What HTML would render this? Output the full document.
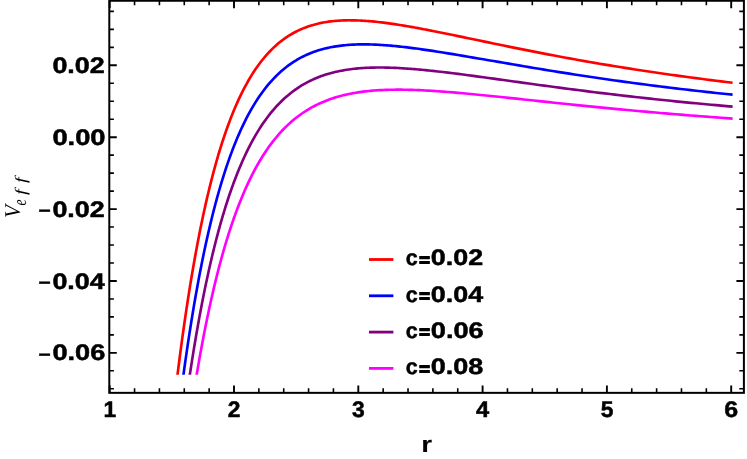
<!DOCTYPE html>
<html><head><meta charset="utf-8"><title>V_eff vs r</title>
<style>
html,body{margin:0;padding:0;background:#fff;}
body{width:747px;height:459px;overflow:hidden;font-family:"Liberation Sans",sans-serif;}
svg{display:block;}
svg text{font-family:"Liberation Sans",sans-serif;font-weight:bold;fill:#000;stroke:#000;stroke-width:0.5px;text-rendering:geometricPrecision;}
svg .yl text{font-family:"Liberation Serif",serif;font-style:italic;font-weight:normal;stroke:none;}
</style></head>
<body>
<svg width="747" height="459" viewBox="0 0 747 459">
<rect x="0" y="0" width="747" height="459" fill="#ffffff"/>
<defs><clipPath id="pc"><rect x="100" y="0" width="647" height="374.7"/></clipPath></defs>
<g id="curves" clip-path="url(#pc)" fill="none" stroke-width="2.65" stroke-linejoin="round" stroke-linecap="square">
<path d="M176.77,380.70 L177.74,372.88 L178.70,365.22 L179.67,357.72 L180.63,350.37 L181.60,343.17 L182.56,336.12 L183.53,329.22 L184.49,322.45 L185.46,315.82 L186.42,309.33 L187.39,302.97 L188.35,296.74 L189.32,290.63 L190.28,284.65 L191.25,278.79 L192.21,273.05 L193.18,267.42 L194.14,261.91 L195.11,256.51 L196.07,251.22 L197.04,246.04 L198.00,240.96 L198.97,235.99 L199.93,231.11 L200.90,226.34 L201.86,221.66 L202.83,217.08 L203.79,212.59 L204.75,208.19 L205.72,203.88 L206.68,199.65 L207.65,195.52 L208.61,191.47 L209.58,187.50 L210.54,183.61 L211.51,179.80 L212.47,176.06 L213.44,172.41 L214.40,168.83 L215.37,165.32 L216.33,161.89 L217.30,158.52 L218.26,155.22 L219.23,152.00 L220.19,148.83 L221.16,145.74 L222.12,142.70 L223.09,139.74 L224.05,136.83 L225.02,133.98 L225.98,131.19 L226.95,128.46 L227.91,125.78 L228.88,123.17 L229.84,120.60 L230.81,118.09 L231.77,115.64 L232.74,113.23 L233.70,110.87 L235.53,106.55 L237.35,102.40 L239.18,98.42 L241.00,94.59 L242.83,90.92 L244.66,87.39 L246.48,84.01 L248.31,80.77 L250.13,77.66 L251.96,74.68 L253.79,71.82 L255.61,69.08 L257.44,66.45 L259.26,63.94 L261.09,61.53 L262.92,59.23 L264.74,57.02 L266.57,54.92 L268.40,52.90 L270.22,50.97 L272.05,49.13 L273.87,47.37 L275.70,45.69 L277.53,44.09 L279.35,42.56 L281.18,41.11 L283.00,39.72 L284.83,38.40 L286.66,37.15 L288.48,35.95 L290.31,34.82 L292.13,33.74 L293.96,32.73 L295.79,31.76 L297.61,30.84 L299.44,29.98 L301.26,29.16 L303.09,28.40 L304.92,27.67 L306.74,26.99 L308.57,26.35 L310.39,25.75 L312.22,25.19 L314.05,24.67 L315.87,24.18 L317.70,23.73 L319.52,23.31 L321.35,22.92 L323.18,22.57 L325.00,22.24 L326.83,21.94 L328.65,21.67 L330.48,21.43 L332.31,21.22 L334.13,21.03 L335.96,20.86 L337.79,20.72 L339.61,20.60 L341.44,20.50 L343.26,20.42 L345.09,20.36 L346.92,20.32 L348.74,20.30 L350.57,20.30 L352.39,20.31 L354.22,20.34 L356.05,20.39 L357.87,20.45 L359.70,20.53 L361.52,20.62 L363.35,20.72 L365.18,20.84 L367.00,20.97 L368.83,21.11 L370.65,21.27 L372.48,21.43 L374.31,21.61 L376.13,21.80 L377.96,21.99 L379.78,22.20 L381.61,22.42 L383.44,22.64 L385.26,22.87 L387.09,23.11 L388.91,23.36 L390.74,23.62 L392.57,23.88 L394.39,24.15 L396.22,24.43 L398.04,24.71 L399.87,25.00 L401.70,25.29 L403.52,25.59 L405.35,25.90 L407.18,26.21 L409.00,26.52 L410.83,26.84 L412.65,27.16 L414.48,27.49 L416.31,27.82 L418.13,28.16 L419.96,28.50 L421.78,28.84 L423.61,29.18 L425.44,29.53 L427.26,29.88 L429.09,30.24 L430.91,30.59 L432.74,30.95 L437.80,31.96 L442.86,32.97 L447.92,34.00 L452.98,35.04 L458.04,36.09 L463.10,37.14 L468.16,38.20 L473.22,39.25 L478.28,40.31 L483.34,41.36 L488.40,42.42 L493.46,43.47 L498.52,44.52 L503.58,45.56 L508.65,46.59 L513.71,47.62 L518.77,48.64 L523.83,49.66 L528.89,50.66 L533.95,51.66 L539.01,52.65 L544.07,53.63 L549.13,54.59 L554.19,55.55 L559.25,56.50 L564.31,57.44 L569.37,58.37 L574.43,59.29 L579.49,60.20 L584.55,61.09 L589.61,61.98 L594.67,62.85 L599.73,63.72 L604.79,64.57 L609.85,65.41 L614.91,66.24 L619.97,67.06 L625.03,67.87 L630.09,68.67 L635.15,69.46 L640.21,70.24 L645.27,71.01 L650.33,71.77 L655.39,72.51 L660.46,73.25 L665.52,73.98 L670.58,74.70 L675.64,75.40 L680.70,76.10 L685.76,76.79 L690.82,77.47 L695.88,78.14 L700.94,78.80 L706.00,79.45 L711.06,80.09 L716.12,80.72 L721.18,81.34 L726.24,81.96 L731.30,82.57" stroke="#ff0000"/>
<path d="M182.66,380.70 L183.52,374.32 L184.39,368.05 L185.25,361.89 L186.12,355.84 L186.98,349.91 L187.85,344.07 L188.71,338.35 L189.58,332.72 L190.44,327.20 L191.31,321.78 L192.17,316.45 L193.04,311.21 L193.90,306.08 L194.77,301.03 L195.63,296.07 L196.50,291.20 L197.36,286.42 L198.23,281.72 L199.09,277.11 L199.96,272.58 L200.82,268.13 L201.69,263.75 L202.55,259.46 L203.42,255.24 L204.28,251.10 L205.15,247.03 L206.01,243.04 L206.88,239.11 L207.75,235.26 L208.61,231.47 L209.48,227.76 L210.34,224.10 L211.21,220.52 L212.07,217.00 L212.94,213.54 L213.80,210.14 L214.67,206.80 L215.53,203.53 L216.40,200.31 L217.26,197.15 L218.13,194.04 L218.99,191.00 L219.86,188.00 L220.72,185.06 L221.59,182.18 L222.45,179.34 L223.32,176.56 L224.18,173.82 L225.05,171.14 L225.91,168.51 L226.78,165.92 L227.64,163.38 L228.51,160.88 L229.37,158.43 L230.24,156.03 L231.10,153.66 L231.97,151.35 L232.83,149.07 L233.70,146.83 L235.53,142.25 L237.35,137.84 L239.18,133.60 L241.00,129.53 L242.83,125.61 L244.66,121.84 L246.48,118.22 L248.31,114.74 L250.13,111.39 L251.96,108.18 L253.79,105.09 L255.61,102.13 L257.44,99.28 L259.26,96.55 L261.09,93.93 L262.92,91.41 L264.74,89.00 L266.57,86.68 L268.40,84.46 L270.22,82.33 L272.05,80.29 L273.87,78.33 L275.70,76.46 L277.53,74.66 L279.35,72.95 L281.18,71.31 L283.00,69.73 L284.83,68.23 L286.66,66.80 L288.48,65.42 L290.31,64.12 L292.13,62.87 L293.96,61.67 L295.79,60.54 L297.61,59.46 L299.44,58.43 L301.26,57.44 L303.09,56.51 L304.92,55.63 L306.74,54.79 L308.57,53.99 L310.39,53.24 L312.22,52.52 L314.05,51.85 L315.87,51.21 L317.70,50.61 L319.52,50.04 L321.35,49.51 L323.18,49.01 L325.00,48.55 L326.83,48.11 L328.65,47.70 L330.48,47.32 L332.31,46.97 L334.13,46.65 L335.96,46.35 L337.79,46.07 L339.61,45.82 L341.44,45.59 L343.26,45.38 L345.09,45.20 L346.92,45.03 L348.74,44.89 L350.57,44.76 L352.39,44.66 L354.22,44.57 L356.05,44.49 L357.87,44.44 L359.70,44.40 L361.52,44.37 L363.35,44.36 L365.18,44.37 L367.00,44.39 L368.83,44.42 L370.65,44.46 L372.48,44.52 L374.31,44.59 L376.13,44.67 L377.96,44.76 L379.78,44.86 L381.61,44.97 L383.44,45.09 L385.26,45.22 L387.09,45.36 L388.91,45.51 L390.74,45.66 L392.57,45.83 L394.39,46.00 L396.22,46.18 L398.04,46.37 L399.87,46.56 L401.70,46.76 L403.52,46.96 L405.35,47.18 L407.18,47.39 L409.00,47.62 L410.83,47.85 L412.65,48.08 L414.48,48.32 L416.31,48.56 L418.13,48.81 L419.96,49.06 L421.78,49.32 L423.61,49.58 L425.44,49.84 L427.26,50.11 L429.09,50.38 L430.91,50.65 L432.74,50.93 L437.80,51.71 L442.86,52.51 L447.92,53.33 L452.98,54.16 L458.04,55.00 L463.10,55.85 L468.16,56.71 L473.22,57.57 L478.28,58.44 L483.34,59.31 L488.40,60.19 L493.46,61.06 L498.52,61.93 L503.58,62.81 L508.65,63.67 L513.71,64.54 L518.77,65.40 L523.83,66.26 L528.89,67.11 L533.95,67.95 L539.01,68.79 L544.07,69.63 L549.13,70.45 L554.19,71.27 L559.25,72.08 L564.31,72.88 L569.37,73.68 L574.43,74.46 L579.49,75.24 L584.55,76.01 L589.61,76.77 L594.67,77.52 L599.73,78.27 L604.79,79.00 L609.85,79.73 L614.91,80.44 L619.97,81.15 L625.03,81.85 L630.09,82.54 L635.15,83.22 L640.21,83.89 L645.27,84.56 L650.33,85.21 L655.39,85.86 L660.46,86.50 L665.52,87.12 L670.58,87.74 L675.64,88.36 L680.70,88.96 L685.76,89.55 L690.82,90.14 L695.88,90.72 L700.94,91.29 L706.00,91.85 L711.06,92.41 L716.12,92.96 L721.18,93.50 L726.24,94.03 L731.30,94.55" stroke="#0000ff"/>
<path d="M188.94,380.70 L189.70,375.62 L190.46,370.63 L191.22,365.71 L191.97,360.86 L192.73,356.09 L193.49,351.39 L194.25,346.77 L195.01,342.22 L195.77,337.73 L196.53,333.32 L197.29,328.97 L198.04,324.69 L198.80,320.48 L199.56,316.33 L200.32,312.24 L201.08,308.22 L201.84,304.25 L202.60,300.35 L203.35,296.51 L204.11,292.73 L204.87,289.01 L205.63,285.34 L206.39,281.73 L207.15,278.17 L207.91,274.67 L208.66,271.22 L209.42,267.83 L210.18,264.48 L210.94,261.19 L211.70,257.95 L212.46,254.76 L213.22,251.61 L213.98,248.52 L214.73,245.47 L215.49,242.47 L216.25,239.52 L217.01,236.61 L217.77,233.74 L218.53,230.92 L219.29,228.15 L220.04,225.41 L220.80,222.72 L221.56,220.07 L222.32,217.46 L223.08,214.89 L223.84,212.35 L224.60,209.86 L225.35,207.41 L226.11,204.99 L226.87,202.61 L227.63,200.27 L228.39,197.97 L229.15,195.70 L229.91,193.46 L230.67,191.26 L231.42,189.10 L232.18,186.96 L232.94,184.86 L233.70,182.79 L235.53,177.95 L237.35,173.28 L239.18,168.79 L241.00,164.46 L242.83,160.29 L244.66,156.28 L246.48,152.42 L248.31,148.70 L250.13,145.12 L251.96,141.68 L253.79,138.37 L255.61,135.18 L257.44,132.11 L259.26,129.16 L261.09,126.32 L262.92,123.59 L264.74,120.97 L266.57,118.44 L268.40,116.02 L270.22,113.69 L272.05,111.44 L273.87,109.29 L275.70,107.22 L277.53,105.24 L279.35,103.33 L281.18,101.50 L283.00,99.75 L284.83,98.06 L286.66,96.45 L288.48,94.90 L290.31,93.41 L292.13,91.99 L293.96,90.62 L295.79,89.32 L297.61,88.07 L299.44,86.87 L301.26,85.73 L303.09,84.63 L304.92,83.59 L306.74,82.59 L308.57,81.63 L310.39,80.72 L312.22,79.86 L314.05,79.03 L315.87,78.24 L317.70,77.49 L319.52,76.78 L321.35,76.10 L323.18,75.46 L325.00,74.85 L326.83,74.28 L328.65,73.73 L330.48,73.21 L332.31,72.72 L334.13,72.26 L335.96,71.83 L337.79,71.42 L339.61,71.04 L341.44,70.68 L343.26,70.35 L345.09,70.04 L346.92,69.75 L348.74,69.48 L350.57,69.23 L352.39,69.00 L354.22,68.79 L356.05,68.60 L357.87,68.43 L359.70,68.27 L361.52,68.13 L363.35,68.00 L365.18,67.90 L367.00,67.80 L368.83,67.72 L370.65,67.66 L372.48,67.60 L374.31,67.56 L376.13,67.53 L377.96,67.52 L379.78,67.51 L381.61,67.52 L383.44,67.54 L385.26,67.57 L387.09,67.60 L388.91,67.65 L390.74,67.71 L392.57,67.77 L394.39,67.85 L396.22,67.93 L398.04,68.02 L399.87,68.12 L401.70,68.22 L403.52,68.34 L405.35,68.46 L407.18,68.58 L409.00,68.71 L410.83,68.85 L412.65,69.00 L414.48,69.15 L416.31,69.30 L418.13,69.46 L419.96,69.63 L421.78,69.80 L423.61,69.97 L425.44,70.15 L427.26,70.33 L429.09,70.52 L430.91,70.71 L432.74,70.91 L437.80,71.46 L442.86,72.05 L447.92,72.65 L452.98,73.27 L458.04,73.91 L463.10,74.56 L468.16,75.22 L473.22,75.90 L478.28,76.58 L483.34,77.26 L488.40,77.96 L493.46,78.65 L498.52,79.35 L503.58,80.05 L508.65,80.76 L513.71,81.46 L518.77,82.16 L523.83,82.86 L528.89,83.56 L533.95,84.25 L539.01,84.94 L544.07,85.63 L549.13,86.31 L554.19,86.99 L559.25,87.66 L564.31,88.32 L569.37,88.99 L574.43,89.64 L579.49,90.29 L584.55,90.93 L589.61,91.57 L594.67,92.20 L599.73,92.82 L604.79,93.44 L609.85,94.04 L614.91,94.65 L619.97,95.24 L625.03,95.83 L630.09,96.41 L635.15,96.98 L640.21,97.55 L645.27,98.11 L650.33,98.66 L655.39,99.20 L660.46,99.74 L665.52,100.27 L670.58,100.79 L675.64,101.31 L680.70,101.82 L685.76,102.32 L690.82,102.82 L695.88,103.30 L700.94,103.79 L706.00,104.26 L711.06,104.73 L716.12,105.19 L721.18,105.65 L726.24,106.10 L731.30,106.54" stroke="#800080"/>
<path d="M195.68,380.70 L196.32,376.81 L196.97,372.97 L197.61,369.18 L198.26,365.43 L198.90,361.74 L199.55,358.09 L200.19,354.49 L200.83,350.94 L201.48,347.43 L202.12,343.96 L202.77,340.54 L203.41,337.17 L204.06,333.83 L204.70,330.54 L205.35,327.29 L205.99,324.09 L206.63,320.92 L207.28,317.79 L207.92,314.71 L208.57,311.66 L209.21,308.65 L209.86,305.68 L210.50,302.75 L211.15,299.86 L211.79,297.00 L212.43,294.18 L213.08,291.39 L213.72,288.64 L214.37,285.93 L215.01,283.25 L215.66,280.60 L216.30,277.99 L216.95,275.41 L217.59,272.87 L218.23,270.35 L218.88,267.87 L219.52,265.42 L220.17,263.00 L220.81,260.61 L221.46,258.25 L222.10,255.93 L222.74,253.63 L223.39,251.36 L224.03,249.12 L224.68,246.91 L225.32,244.73 L225.97,242.57 L226.61,240.44 L227.26,238.34 L227.90,236.27 L228.54,234.22 L229.19,232.20 L229.83,230.20 L230.48,228.23 L231.12,226.29 L231.77,224.37 L232.41,222.47 L233.06,220.60 L233.70,218.75 L235.53,213.65 L237.35,208.72 L239.18,203.97 L241.00,199.39 L242.83,194.98 L244.66,190.72 L246.48,186.62 L248.31,182.67 L250.13,178.86 L251.96,175.18 L253.79,171.64 L255.61,168.23 L257.44,164.94 L259.26,161.77 L261.09,158.71 L262.92,155.77 L264.74,152.94 L266.57,150.21 L268.40,147.58 L270.22,145.04 L272.05,142.60 L273.87,140.25 L275.70,137.99 L277.53,135.81 L279.35,133.72 L281.18,131.70 L283.00,129.76 L284.83,127.89 L286.66,126.09 L288.48,124.37 L290.31,122.70 L292.13,121.11 L293.96,119.57 L295.79,118.09 L297.61,116.68 L299.44,115.31 L301.26,114.01 L303.09,112.75 L304.92,111.54 L306.74,110.39 L308.57,109.28 L310.39,108.21 L312.22,107.19 L314.05,106.21 L315.87,105.27 L317.70,104.38 L319.52,103.52 L321.35,102.70 L323.18,101.91 L325.00,101.16 L326.83,100.44 L328.65,99.76 L330.48,99.10 L332.31,98.48 L334.13,97.88 L335.96,97.32 L337.79,96.78 L339.61,96.27 L341.44,95.78 L343.26,95.32 L345.09,94.88 L346.92,94.46 L348.74,94.07 L350.57,93.70 L352.39,93.35 L354.22,93.02 L356.05,92.71 L357.87,92.41 L359.70,92.14 L361.52,91.88 L363.35,91.65 L365.18,91.42 L367.00,91.22 L368.83,91.02 L370.65,90.85 L372.48,90.69 L374.31,90.54 L376.13,90.40 L377.96,90.28 L379.78,90.17 L381.61,90.07 L383.44,89.99 L385.26,89.91 L387.09,89.85 L388.91,89.80 L390.74,89.75 L392.57,89.72 L394.39,89.70 L396.22,89.68 L398.04,89.68 L399.87,89.68 L401.70,89.69 L403.52,89.71 L405.35,89.74 L407.18,89.77 L409.00,89.81 L410.83,89.86 L412.65,89.91 L414.48,89.97 L416.31,90.04 L418.13,90.11 L419.96,90.19 L421.78,90.28 L423.61,90.36 L425.44,90.46 L427.26,90.56 L429.09,90.66 L430.91,90.77 L432.74,90.88 L437.80,91.22 L442.86,91.58 L447.92,91.97 L452.98,92.38 L458.04,92.82 L463.10,93.27 L468.16,93.74 L473.22,94.22 L478.28,94.71 L483.34,95.21 L488.40,95.73 L493.46,96.25 L498.52,96.77 L503.58,97.30 L508.65,97.84 L513.71,98.38 L518.77,98.92 L523.83,99.46 L528.89,100.00 L533.95,100.54 L539.01,101.09 L544.07,101.63 L549.13,102.16 L554.19,102.70 L559.25,103.23 L564.31,103.77 L569.37,104.29 L574.43,104.82 L579.49,105.34 L584.55,105.85 L589.61,106.36 L594.67,106.87 L599.73,107.37 L604.79,107.87 L609.85,108.36 L614.91,108.85 L619.97,109.33 L625.03,109.80 L630.09,110.28 L635.15,110.74 L640.21,111.20 L645.27,111.65 L650.33,112.10 L655.39,112.55 L660.46,112.98 L665.52,113.41 L670.58,113.84 L675.64,114.26 L680.70,114.68 L685.76,115.09 L690.82,115.49 L695.88,115.89 L700.94,116.28 L706.00,116.67 L711.06,117.05 L716.12,117.43 L721.18,117.80 L726.24,118.16 L731.30,118.53" stroke="#ff00ff"/>
</g>
<g id="frame" fill="none" stroke="#000">
<rect x="109.3" y="0.75" width="634.6" height="392.1" stroke-width="2.0"/>
<path d="M109.70,392.9 v-7.5 M109.70,0.75 v7.5" stroke-width="1.9"/>
<path d="M134.56,392.9 v-4.6 M134.56,0.75 v4.6" stroke-width="1.6"/>
<path d="M159.42,392.9 v-4.6 M159.42,0.75 v4.6" stroke-width="1.6"/>
<path d="M184.28,392.9 v-4.6 M184.28,0.75 v4.6" stroke-width="1.6"/>
<path d="M209.14,392.9 v-4.6 M209.14,0.75 v4.6" stroke-width="1.6"/>
<path d="M234.00,392.9 v-7.5 M234.00,0.75 v7.5" stroke-width="1.9"/>
<path d="M258.86,392.9 v-4.6 M258.86,0.75 v4.6" stroke-width="1.6"/>
<path d="M283.72,392.9 v-4.6 M283.72,0.75 v4.6" stroke-width="1.6"/>
<path d="M308.58,392.9 v-4.6 M308.58,0.75 v4.6" stroke-width="1.6"/>
<path d="M333.44,392.9 v-4.6 M333.44,0.75 v4.6" stroke-width="1.6"/>
<path d="M358.30,392.9 v-7.5 M358.30,0.75 v7.5" stroke-width="1.9"/>
<path d="M383.16,392.9 v-4.6 M383.16,0.75 v4.6" stroke-width="1.6"/>
<path d="M408.02,392.9 v-4.6 M408.02,0.75 v4.6" stroke-width="1.6"/>
<path d="M432.88,392.9 v-4.6 M432.88,0.75 v4.6" stroke-width="1.6"/>
<path d="M457.74,392.9 v-4.6 M457.74,0.75 v4.6" stroke-width="1.6"/>
<path d="M482.60,392.9 v-7.5 M482.60,0.75 v7.5" stroke-width="1.9"/>
<path d="M507.46,392.9 v-4.6 M507.46,0.75 v4.6" stroke-width="1.6"/>
<path d="M532.32,392.9 v-4.6 M532.32,0.75 v4.6" stroke-width="1.6"/>
<path d="M557.18,392.9 v-4.6 M557.18,0.75 v4.6" stroke-width="1.6"/>
<path d="M582.04,392.9 v-4.6 M582.04,0.75 v4.6" stroke-width="1.6"/>
<path d="M606.90,392.9 v-7.5 M606.90,0.75 v7.5" stroke-width="1.9"/>
<path d="M631.76,392.9 v-4.6 M631.76,0.75 v4.6" stroke-width="1.6"/>
<path d="M656.62,392.9 v-4.6 M656.62,0.75 v4.6" stroke-width="1.6"/>
<path d="M681.48,392.9 v-4.6 M681.48,0.75 v4.6" stroke-width="1.6"/>
<path d="M706.34,392.9 v-4.6 M706.34,0.75 v4.6" stroke-width="1.6"/>
<path d="M731.20,392.9 v-7.5 M731.20,0.75 v7.5" stroke-width="1.9"/>
<path d="M109.3,388.78 h4.6 M743.9,388.78 h-4.6" stroke-width="1.6"/>
<path d="M109.3,370.81 h4.6 M743.9,370.81 h-4.6" stroke-width="1.6"/>
<path d="M109.3,352.84 h7.5 M743.9,352.84 h-7.5" stroke-width="1.9"/>
<path d="M109.3,334.87 h4.6 M743.9,334.87 h-4.6" stroke-width="1.6"/>
<path d="M109.3,316.90 h4.6 M743.9,316.90 h-4.6" stroke-width="1.6"/>
<path d="M109.3,298.93 h4.6 M743.9,298.93 h-4.6" stroke-width="1.6"/>
<path d="M109.3,280.96 h7.5 M743.9,280.96 h-7.5" stroke-width="1.9"/>
<path d="M109.3,262.99 h4.6 M743.9,262.99 h-4.6" stroke-width="1.6"/>
<path d="M109.3,245.02 h4.6 M743.9,245.02 h-4.6" stroke-width="1.6"/>
<path d="M109.3,227.05 h4.6 M743.9,227.05 h-4.6" stroke-width="1.6"/>
<path d="M109.3,209.08 h7.5 M743.9,209.08 h-7.5" stroke-width="1.9"/>
<path d="M109.3,191.11 h4.6 M743.9,191.11 h-4.6" stroke-width="1.6"/>
<path d="M109.3,173.14 h4.6 M743.9,173.14 h-4.6" stroke-width="1.6"/>
<path d="M109.3,155.17 h4.6 M743.9,155.17 h-4.6" stroke-width="1.6"/>
<path d="M109.3,137.20 h7.5 M743.9,137.20 h-7.5" stroke-width="1.9"/>
<path d="M109.3,119.23 h4.6 M743.9,119.23 h-4.6" stroke-width="1.6"/>
<path d="M109.3,101.26 h4.6 M743.9,101.26 h-4.6" stroke-width="1.6"/>
<path d="M109.3,83.29 h4.6 M743.9,83.29 h-4.6" stroke-width="1.6"/>
<path d="M109.3,65.32 h7.5 M743.9,65.32 h-7.5" stroke-width="1.9"/>
<path d="M109.3,47.35 h4.6 M743.9,47.35 h-4.6" stroke-width="1.6"/>
<path d="M109.3,29.38 h4.6 M743.9,29.38 h-4.6" stroke-width="1.6"/>
<path d="M109.3,11.41 h4.6 M743.9,11.41 h-4.6" stroke-width="1.6"/>
</g>
<g id="labels" style="will-change:transform">
<text transform="translate(103.44,417.00) scale(1.0166,1.0) rotate(0.02)" font-size="22.5">1</text>
<text transform="translate(227.65,417.00) scale(1.0130,1.0) rotate(0.02)" font-size="22.5">2</text>
<text transform="translate(351.93,417.00) scale(1.0168,1.0) rotate(0.02)" font-size="22.5">3</text>
<text transform="translate(475.88,417.00) scale(1.0527,1.0) rotate(0.02)" font-size="22.5">4</text>
<text transform="translate(600.63,417.00) scale(1.0159,1.0) rotate(0.02)" font-size="22.5">5</text>
<text transform="translate(724.29,417.00) scale(1.1092,1.0) rotate(0.02)" font-size="22.5">6</text>
<text transform="translate(52.42,73.12) scale(1.1937,1.0) rotate(0.02)" font-size="22.5">0.02</text>
<text transform="translate(52.41,144.93) scale(1.2137,1.0) rotate(0.02)" font-size="22.5">0.00</text>
<text transform="translate(52.42,216.73) scale(1.1937,1.0) rotate(0.02)" font-size="22.5">0.02</text>
<text transform="translate(38.47,217.30) scale(0.9305,0.85) rotate(0.02)" font-size="22.5">−</text>
<text transform="translate(52.42,288.53) scale(1.1936,1.0) rotate(0.02)" font-size="22.5">0.04</text>
<text transform="translate(38.47,289.19) scale(0.9305,0.85) rotate(0.02)" font-size="22.5">−</text>
<text transform="translate(52.42,360.34) scale(1.2071,1.0) rotate(0.02)" font-size="22.5">0.06</text>
<text transform="translate(38.47,361.06) scale(0.9305,0.85) rotate(0.02)" font-size="22.5">−</text>
<path d="M369,259.5 H393.4" stroke="#ff0000" stroke-width="2.8" fill="none"/>
<text transform="translate(405.80,265.20) scale(0.9565,0.97) rotate(0.02)" font-size="22.5">c</text>
<text transform="translate(419.07,265.65) scale(0.8421,0.8) rotate(0.02)" font-size="22.5" style="stroke-width:1.35px">=</text>
<text transform="translate(430.85,265.20) scale(1.1937,1.0) rotate(0.02)" font-size="22.5">0.02</text>
<path d="M369,295.8 H393.4" stroke="#0000ff" stroke-width="2.8" fill="none"/>
<text transform="translate(405.80,301.50) scale(0.9565,0.97) rotate(0.02)" font-size="22.5">c</text>
<text transform="translate(419.07,301.95) scale(0.8421,0.8) rotate(0.02)" font-size="22.5" style="stroke-width:1.35px">=</text>
<text transform="translate(430.85,301.50) scale(1.1936,1.0) rotate(0.02)" font-size="22.5">0.04</text>
<path d="M369,332.1 H393.4" stroke="#800080" stroke-width="2.8" fill="none"/>
<text transform="translate(405.80,337.80) scale(0.9565,0.97) rotate(0.02)" font-size="22.5">c</text>
<text transform="translate(419.07,338.25) scale(0.8421,0.8) rotate(0.02)" font-size="22.5" style="stroke-width:1.35px">=</text>
<text transform="translate(430.85,337.80) scale(1.2071,1.0) rotate(0.02)" font-size="22.5">0.06</text>
<path d="M369,368.4 H393.4" stroke="#ff00ff" stroke-width="2.8" fill="none"/>
<text transform="translate(405.80,374.10) scale(0.9565,0.97) rotate(0.02)" font-size="22.5">c</text>
<text transform="translate(419.07,374.55) scale(0.8421,0.8) rotate(0.02)" font-size="22.5" style="stroke-width:1.35px">=</text>
<text transform="translate(430.85,374.10) scale(1.1994,1.0) rotate(0.02)" font-size="22.5">0.08</text>
<text transform="translate(421.37,452.0) scale(1.2211,1) rotate(0.02)" font-size="22.8" style="stroke-width:0.1px">r</text>
</g>
<g transform="rotate(-90)" class="yl" style="will-change:transform">
<text transform="translate(-217.98,19.53) scale(0.942,0.998)" font-size="22.6">V</text>
<text transform="translate(-205.41,25.66) scale(0.815,1.143)" font-size="16.6">e</text>
<text transform="translate(-195.01,25.80) scale(1.232,0.972)" font-size="16.6">f</text>
<text transform="translate(-183.00,25.80) scale(1.216,0.972)" font-size="16.6">f</text>
</g>
</svg>
</body></html>
